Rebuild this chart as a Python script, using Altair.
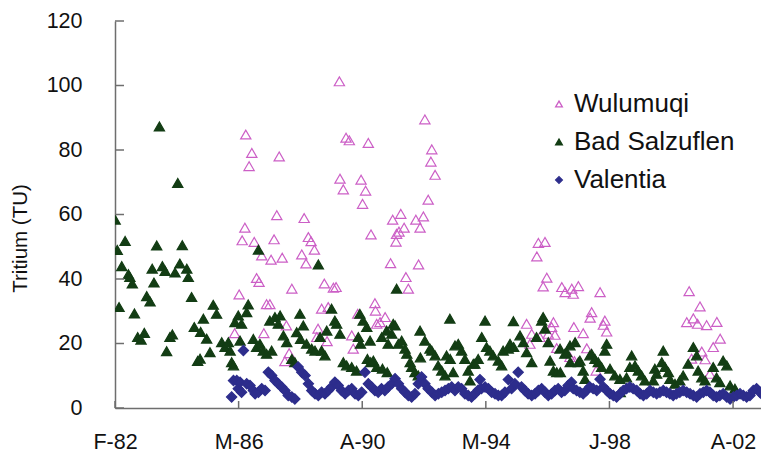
import altair as alt
import pandas as pd

# ---------------- data ----------------
series_names = ["Wulumuqi", "Bad Salzuflen", "Valentia"]

w_year = [1986.06, 1986.21, 1986.31, 1986.40, 1986.43, 1986.54, 1986.63, 1986.71, 1986.79, 1986.87,
          1986.96, 1987.03, 1987.12, 1987.23, 1987.27, 1987.37, 1987.46, 1987.54, 1987.64, 1987.73,
          1987.78, 1987.87, 1987.96, 1988.29, 1988.37, 1988.43, 1988.51, 1988.60, 1988.71, 1988.79,
          1988.83, 1988.95, 1989.04, 1989.13, 1989.17, 1989.34, 1989.43, 1989.54, 1989.56, 1989.67,
          1989.76, 1989.87, 1989.95, 1990.00, 1990.15, 1990.26, 1990.31, 1990.41, 1990.50, 1990.59,
          1990.72, 1990.74, 1990.78, 1990.89, 1991.06, 1991.24, 1991.31, 1991.42, 1991.44, 1991.52,
          1991.58, 1991.69, 1991.75, 1991.83, 1992.08, 1992.17, 1992.22, 1992.33, 1992.38, 1992.49,
          1992.58, 1992.61, 1992.72,
          1995.76, 1995.87, 1995.93, 1996.10, 1996.15, 1996.20, 1996.31, 1996.37, 1996.43, 1996.48,
          1996.59, 1996.65, 1996.70, 1996.76, 1996.93, 1997.04, 1997.20, 1997.26, 1997.31, 1997.33,
          1997.35, 1997.48, 1997.64, 1997.76, 1997.87, 1997.92, 1998.07, 1998.20, 1998.31, 1998.36,
          1998.42,
          2001.08, 2001.16, 2001.24, 2001.30, 2001.44, 2001.52, 2001.58, 2001.69, 2001.74, 2001.85,
          2001.96, 2002.08, 2002.19]
w_val = [23.2, 35.2, 52, 55.9, 84.8, 75, 79.1, 51.5, 40.3, 39.1,
         47.3, 23.2, 32.2, 32.2, 46, 52.3, 59.8, 78, 46.6, 14.5,
         25.6, 17, 37, 47.6, 58.9, 44.8, 53, 51.7, 49.1, 22,
         24.6, 30.8, 38.6, 20.7, 31.3, 37.3, 37.5, 101.3, 71.1, 67.8,
         83.8, 83, 22.5, 18.4, 29.2, 70.8, 63.3, 67.4, 82.2, 53.8,
         32.5, 30.2, 26.1, 26.6, 28.2, 44.9, 58.4, 51.6, 54, 54.7,
         60.2, 55.9, 40.6, 37, 58.4, 44.5, 55.9, 59.4, 89.5, 64.6,
         76.4, 80.2, 72.3,
         26.1, 19.9, 23, 47, 51.2, 22, 37.7, 51.5, 40.4, 23,
         25.1, 26.6, 22.7, 18.6, 37.5, 35.9, 15.8, 37, 35.4, 25.1,
         14.5, 37.8, 23.2, 18.5, 28, 29.7, 11.6, 35.9, 25.8, 27.1,
         23.7,
         26.6, 36.2, 15.3, 27.8, 26.1, 31.5, 17.5, 15.1, 25.7, 10.6,
         18.9, 26.7, 21.5]

b_year = [1982.09, 1982.16, 1982.22, 1982.31, 1982.42, 1982.53, 1982.58, 1982.66, 1982.73, 1982.84,
          1982.95, 1983.06, 1983.14, 1983.25, 1983.32, 1983.38, 1983.47, 1983.56, 1983.66, 1983.75,
          1983.80, 1983.91, 1983.99, 1984.08, 1984.17, 1984.24, 1984.32, 1984.47, 1984.52, 1984.63,
          1984.72, 1984.83, 1984.91, 1984.93, 1985.02, 1985.13, 1985.24, 1985.35, 1985.46, 1985.63,
          1985.74, 1985.85, 1985.91, 1985.96, 1986.02, 1986.07, 1986.18, 1986.24, 1986.29, 1986.46,
          1986.51, 1986.68, 1986.79, 1986.85, 1986.90, 1987.01, 1987.12, 1987.23, 1987.29, 1987.40,
          1987.51, 1987.57, 1987.68, 1987.79, 1987.96, 1988.06, 1988.12, 1988.23, 1988.25, 1988.34,
          1988.45, 1988.62, 1988.73, 1988.84, 1988.90, 1988.95, 1989.06, 1989.12, 1989.28, 1989.39,
          1989.45, 1989.56, 1989.67, 1989.78, 1989.95, 1990.11, 1990.17, 1990.22, 1990.24, 1990.33,
          1990.45, 1990.47, 1990.56, 1990.58, 1990.67, 1990.78, 1990.95, 1990.97, 1991.11, 1991.13,
          1991.16, 1991.28, 1991.33, 1991.39, 1991.44, 1991.50, 1991.61, 1991.72, 1991.78, 1991.89,
          1991.94, 1992.05, 1992.16, 1992.22, 1992.23, 1992.38, 1992.55, 1992.61, 1992.72, 1992.82,
          1992.94, 1993.05, 1993.10, 1993.21, 1993.22, 1993.32, 1993.38, 1993.49, 1993.60, 1993.71,
          1993.82, 1993.88, 1993.99, 1994.04, 1994.15, 1994.27, 1994.38, 1994.43, 1994.54, 1994.65,
          1994.82, 1994.93, 1994.98, 1995.15, 1995.21, 1995.32, 1995.33, 1995.54, 1995.65, 1995.76,
          1995.93, 1996.09, 1996.26, 1996.31, 1996.37, 1996.48, 1996.54, 1996.65, 1996.76, 1996.87,
          1996.88, 1997.03, 1997.09, 1997.20, 1997.21, 1997.37, 1997.48, 1997.53, 1997.64, 1997.70,
          1997.86, 1997.92, 1998.03, 1998.14, 1998.25, 1998.36, 1998.42, 1998.53, 1998.69, 1998.86,
          1998.87, 1999.08, 1999.19, 1999.25, 1999.36, 1999.47, 1999.58, 1999.69, 1999.97, 2000.02,
          2000.08, 2000.25, 2000.30, 2000.36, 2000.47, 2000.52, 2000.69, 2000.85, 2000.96, 2001.13,
          2001.30, 2001.41, 2001.46, 2001.58, 2001.69, 2001.96, 2002.07, 2002.18, 2002.29, 2002.41,
          2002.52, 2002.68]
b_val = [58.4, 49, 31.3, 44, 51.8, 41.5, 40.6, 38.6, 29.3, 22,
         21.2, 23.3, 34.7, 33, 43.2, 38.9, 50.4, 87.3, 44, 42.5,
         17.6, 22, 22.8, 42, 69.8, 44.8, 50.5, 43.2, 40.6, 34.4,
         25.1, 14.6, 15.3, 23.6, 27.7, 21.5, 17.3, 32, 29.2, 20.4,
         18.9, 20.4, 17.8, 14.2, 13.2, 26.6, 28.7, 20.9, 26.1, 29.7,
         32.1, 21.4, 18.9, 49.1, 19.9, 17.8, 16.8, 27.1, 17.8, 28.2,
         26.1, 28.7, 22.5, 20.4, 15.2, 14.2, 23.5, 29.2, 21.4, 25.6,
         19.9, 18.4, 17.8, 44.5, 22, 17.8, 16.3, 24, 30.8, 27.1,
         26.1, 23, 14.2, 13.2, 12.7, 11.6, 22, 29.2, 19.9, 27.1,
         25.1, 15.2, 20.9, 14.2, 14.7, 12.7, 22, 12.2, 24, 11.1,
         19.9, 23, 26.1, 25.6, 37, 19.9, 20.9, 18.4, 16.8, 14.2,
         12.7, 11.1, 10.1, 24, 15.7, 20.9, 18.4, 17.8, 16.3, 13.2,
         11.6, 10.1, 16.3, 27.7, 15.2, 11.1, 19.4, 19.9, 17.8, 15.2,
         11.6, 8.5, 13.7, 13.7, 15.2, 22, 27.1, 18.9, 17.8, 16.3,
         14.7, 13.2, 17.8, 18.4, 19.9, 26.9, 18.9, 22.5, 20.4, 17.3,
         14.2, 22, 27.1, 28.2, 24.6, 20.4, 14.7, 11.6, 11.1, 18.4,
         11.1, 16.8, 17.3, 19.4, 14.2, 20.4, 14.2, 14.7, 11.6, 9.0,
         16.3, 16.8, 15.2, 14.2, 12.7, 17.8, 19.9, 12.2, 10.1, 9.0,
         4.9, 9.5, 12.7, 16.3, 13.2, 11.6, 10.1, 8.5, 8.5, 12.2,
         10.6, 14.2, 17.8, 12.7, 11.1, 9.0, 7.5, 8.5, 10.1, 13.7,
         18.9, 16.3, 11.6, 9.5, 8.5, 12.7, 9.5, 8, 14.7, 13.2,
         7, 6]

v_year = [1985.96, 1986.02, 1986.13, 1986.18, 1986.24, 1986.29, 1986.35, 1986.46, 1986.57, 1986.68,
          1986.74, 1986.85, 1986.96, 1987.07, 1987.18, 1987.29, 1987.40, 1987.51, 1987.62, 1987.73,
          1987.84, 1987.96, 1988.06, 1988.17, 1988.29, 1988.40, 1988.51, 1988.62, 1988.73, 1988.84,
          1988.95, 1989.06, 1989.17, 1989.28, 1989.39, 1989.50, 1989.61, 1989.73, 1989.84, 1989.95,
          1990.06, 1990.17, 1990.28, 1990.39, 1990.50, 1990.61, 1990.72, 1990.83, 1990.94, 1991.05,
          1991.16, 1991.28, 1991.39, 1991.50, 1991.61, 1991.72, 1991.83, 1991.94, 1992.05, 1992.16,
          1992.27, 1992.38, 1992.49, 1992.61, 1992.72, 1992.83, 1992.94, 1993.05, 1993.16, 1993.27,
          1993.38, 1993.49, 1993.60, 1993.71, 1993.82, 1993.93, 1994.04, 1994.15, 1994.21, 1994.26,
          1994.38, 1994.49, 1994.60, 1994.71, 1994.82, 1994.93, 1995.04, 1995.15, 1995.26, 1995.37,
          1995.48, 1995.59, 1995.70, 1995.81, 1995.93, 1996.04, 1996.15, 1996.26, 1996.37, 1996.48,
          1996.59, 1996.70, 1996.81, 1996.92, 1997.03, 1997.14, 1997.25, 1997.31, 1997.42, 1997.53,
          1997.64, 1997.75, 1997.86, 1997.97, 1998.09, 1998.20, 1998.31, 1998.42, 1998.53, 1998.64,
          1998.75, 1998.86, 1998.97, 1999.08, 1999.19, 1999.30, 1999.42, 1999.53, 1999.64, 1999.75,
          1999.86, 1999.97, 2000.08, 2000.19, 2000.30, 2000.41, 2000.52, 2000.63, 2000.74, 2000.85,
          2000.96, 2001.08, 2001.19, 2001.30, 2001.41, 2001.52, 2001.63, 2001.74, 2001.85, 2001.96,
          2002.07, 2002.18, 2002.29, 2002.41, 2002.52, 2002.63, 2002.74, 2002.85, 2002.96, 2003.07,
          2003.18, 2003.29, 2003.40, 2003.51, 2003.62, 2003.73]
v_val = [3.4, 8.5, 8.5, 6, 8, 4.9, 17.8, 7.5, 7, 5.4,
         4.4, 4.9, 6, 5.4, 11.1, 10.1, 8.5, 7.5, 6.5, 5.4,
         3.9, 3.4, 2.8, 12.7, 11.1, 10.1, 7.5, 5.4, 4.4, 3.9,
         4.9, 4.4, 5.4, 6.5, 8, 7, 5.4, 4.4, 5.4, 6,
         4.4, 3.9, 4.9, 11.1, 7.5, 6.5, 5.4, 4.9, 6, 5.4,
         6.5, 7.5, 9.1, 7.5, 6, 4.9, 3.9, 3.4, 4.4, 7.5,
         9.6, 7.5, 6, 4.9, 3.9, 4.4, 4.9, 5.4, 6, 6.5,
         5.4, 6.5, 6, 4.4, 3.9, 3.4, 4.4, 5.5, 8.8, 6,
         6.5, 6, 4.9, 4.4, 3.9, 3.9, 4.9, 8.8, 6, 7.5,
         11.1, 6.5, 5.4, 4.4, 3.9, 4.4, 5.4, 6, 4.9, 3.9,
         4.4, 5.4, 6, 4.9, 5.4, 7, 8, 6, 5.4, 4.9,
         4.4, 5.4, 6.5, 6, 5.4, 8.9, 6.5, 5.4, 4.4, 3.9,
         3.4, 4.4, 5.4, 6, 6.5, 6, 5.4, 4.4, 3.9, 4.4,
         5.4, 4.9, 4.4, 4.9, 5.4, 4.9, 4.4, 3.9, 4.4, 4.9,
         5.4, 4.9, 4.4, 3.9, 3.4, 4.4, 4.9, 5.4, 4.9, 3.9,
         3.4, 3.9, 4.4, 3.4, 2.8, 3.4, 3.9, 4.4, 3.9, 3.4,
         3.9, 5.4, 6, 4.9, 3.9, 3.4]

tick_years = [1982.085, 1986.192, 1990.299, 1994.405, 1998.512, 2002.619]
tick_labels = ["F-82", "M-86", "A-90", "M-94", "J-98", "A-02"]
y_ticks = [0, 20, 40, 60, 80, 100, 120]

colors_fill = ["transparent", "#133d14", "#2d2d8c"]
colors_stroke = ["#cc5fc6", "#133d14", "#2d2d8c"]
shapes = ["triangle-up", "triangle-up", "diamond"]

# ---------------- build table ----------------
rows = []
for name, ys, vs in [(series_names[0], w_year, w_val),
                     (series_names[1], b_year, b_val),
                     (series_names[2], v_year, v_val)]:
    rows += [{"year": y, "tritium": v, "series": name} for y, v in zip(ys, vs)]
df = pd.DataFrame(rows)

# label expression for the date ticks
expr = "''"
for t, lab in reversed(list(zip(tick_years, tick_labels))):
    expr = f"abs(datum.value - {t}) < 0.5 ? '{lab}' : ({expr})"

FONT = "Liberation Sans"
W, H = 646, 387
x_scale = alt.Scale(domain=[1982.085, 2003.547], nice=False, zero=False)
y_scale = alt.Scale(domain=[0, 120], nice=False)

legend = alt.Legend(orient="none", legendX=431, legendY=70, title=None,
                    labelFontSize=26, labelFont=FONT, labelColor="#111", labelLimit=400,
                    symbolSize=45, symbolStrokeWidth=1.3, labelOffset=2,
                    rowPadding=12, padding=0)

points = alt.Chart(df).mark_point(filled=True, strokeWidth=1.2, size=105, opacity=1, clip=True).encode(
    x=alt.X("year:Q", scale=x_scale,
            axis=alt.Axis(values=tick_years, labelExpr=expr, title=None, ticks=False, grid=False,
                          labelFontSize=21.5, labelFont=FONT, labelColor="#111", labelPadding=23,
                          labelFlush=False, labelOverlap=False,
                          domainColor="#6e6e6e", domainWidth=1.5)),
    y=alt.Y("tritium:Q", scale=y_scale,
            axis=alt.Axis(values=y_ticks, title="Tritium (TU)", ticks=False, grid=False,
                          labelFontSize=21.5, labelFont=FONT, labelColor="#111", labelPadding=33,
                          labelFlush=False, labelOverlap=False,
                          domainColor="#6e6e6e", domainWidth=1.5,
                          titleFontSize=20.5, titleFont=FONT, titleColor="#111",
                          titleFontWeight="normal", titleAngle=270, titleAlign="center",
                          titleBaseline="middle", titleX=-95, titleY=217)),
    shape=alt.Shape("series:N", scale=alt.Scale(domain=series_names, range=shapes), legend=legend),
    fill=alt.Fill("series:N", scale=alt.Scale(domain=series_names, range=colors_fill), legend=legend),
    stroke=alt.Stroke("series:N", scale=alt.Scale(domain=series_names, range=colors_stroke), legend=legend),
)

x_ticks = alt.Chart(pd.DataFrame({"year": tick_years})).mark_rule(color="#6e6e6e", strokeWidth=1.5).encode(
    x=alt.X("year:Q", scale=x_scale), y=alt.value(H), y2=alt.value(H - 7))
y_tick_rules = alt.Chart(pd.DataFrame({"tritium": y_ticks})).mark_rule(color="#6e6e6e", strokeWidth=1.5).encode(
    y=alt.Y("tritium:Q", scale=y_scale), x=alt.value(0), x2=alt.value(9))

chart = alt.layer(points, x_ticks, y_tick_rules).properties(
    width=W, height=H,
    padding={"left": 107, "top": 13, "right": 0, "bottom": 44},
    autosize=alt.AutoSizeParams(type="none"),
    background="white",
).configure_view(stroke=None)

chart.save("out.html", embed_options={"renderer": "svg", "actions": False})
